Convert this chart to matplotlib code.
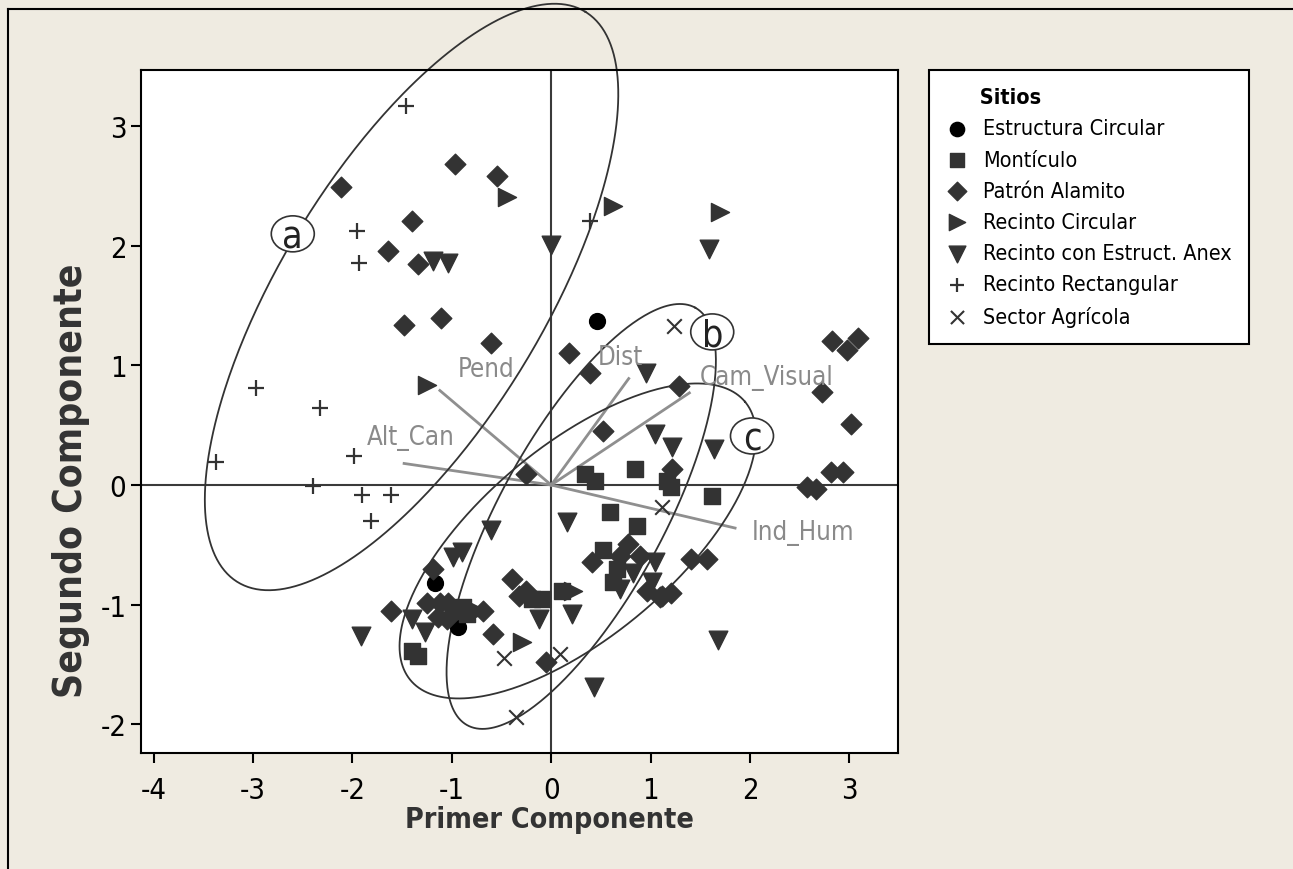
import numpy as np
import matplotlib
matplotlib.use("Agg")
import matplotlib.pyplot as plt
from matplotlib.lines import Line2D
from matplotlib.patches import Ellipse
from matplotlib.transforms import ScaledTranslation

plt.rcParams['font.family'] = ['DejaVu Sans']
plt.rcParams['font.stretch'] = 'condensed'
plt.rcParams['axes.unicode_minus'] = False

# Data: PCA scores
circ_x = [0.46, -1.17, -0.94]
circ_y = [1.37, -0.82, -1.19]

mont_x = [0.34, 0.44, 0.84, 1.16, 1.21, 1.62, 0.59, 0.86, 0.52, -0.89, -0.99, -0.85,
          -1.40, -1.34, -0.19, -0.09, 0.11, 0.66, 0.62]
mont_y = [0.09, 0.03, 0.13, 0.03, -0.02, -0.09, -0.23, -0.34, -0.54, -1.02, -1.05, -1.08,
          -1.39, -1.43, -0.95, -0.95, -0.89, -0.70, -0.81]

alam_x = [-2.11, -0.97, -0.55, -1.40, -1.64, -1.34, -1.48, -1.11, -0.61, -0.25, 0.18, 0.39,
          1.29, 0.52, 2.83, 3.09, 2.98, 2.72, 3.02, 2.81, 2.94, 2.57, 2.66, 1.22, 1.41,
          1.57, 1.11, 1.21, 0.41, -1.19, -1.61, -1.25, -1.12, -1.04, -1.14, -1.05, -0.69,
          -0.59, -0.05, -0.39, -0.32, -0.25, 0.77, 0.96, 1.09, 0.69, 0.89]
alam_y = [2.49, 2.68, 2.58, 2.21, 1.96, 1.85, 1.34, 1.40, 1.19, 0.09, 1.10, 0.94,
          0.83, 0.45, 1.20, 1.23, 1.13, 0.78, 0.51, 0.11, 0.11, -0.02, -0.03, 0.13, -0.62,
          -0.62, -0.93, -0.90, -0.64, -0.70, -1.05, -0.99, -0.99, -0.99, -1.10, -1.12, -1.05,
          -1.25, -1.48, -0.79, -0.93, -0.89, -0.49, -0.89, -0.94, -0.59, -0.59]

rcirc_x = [-0.44, -1.25, 0.62, 1.70, 0.22, -0.29, -0.74]
rcirc_y = [2.41, 0.84, 2.33, 2.28, -0.89, -1.31, -1.05]

anex_x = [0.00, -1.19, -1.04, 1.59, 0.95, 1.04, 1.22, 1.64, 0.16, -0.61, -0.99, -0.90,
          -1.40, -1.27, -1.91, -0.12, 0.21, 0.43, 1.68, 1.04, 0.82, 1.01, 0.69]
anex_y = [2.01, 1.87, 1.86, 1.97, 0.94, 0.43, 0.32, 0.30, -0.31, -0.38, -0.60, -0.56,
          -1.12, -1.23, -1.26, -1.12, -1.08, -1.69, -1.30, -0.64, -0.74, -0.81, -0.87]

rect_x = [-1.46, -1.95, -1.93, -2.97, -2.33, -3.37, -1.98, -2.40, -1.90, -1.61, -1.81, 0.39]
rect_y = [3.17, 2.12, 1.86, 0.81, 0.64, 0.19, 0.24, -0.01, -0.08, -0.08, -0.30, 2.21]

agri_x = [1.24, 1.11, -0.47, 0.09, -0.35]
agri_y = [1.33, -0.18, -1.45, -1.41, -1.94]

# loading vectors
var_names = ["Pend", "Alt_Can", "Dist", "Cam_Visual", "Ind_Hum"]
var_x = [-1.12, -1.48, 0.78, 1.39, 1.85]
var_y = [0.79, 0.18, 0.89, 0.77, -0.36]
var_lab_x = [-0.94, -1.86, 0.47, 1.49, 2.02]
var_lab_y = [0.97, 0.40, 1.07, 0.90, -0.39]

# group ellipses: centre and two conjugate semi-axes
ell_names = ["a", "b", "c"]
ell_cx = [-1.405, 0.302, 0.267]
ell_cy = [1.572, -0.263, -0.468]
ell_ux = [1.748, 1.146, 1.683]
ell_uy = [2.385, 1.746, 1.164]
ell_vx = [-1.127, -0.723, -0.618]
ell_vy = [0.569, 0.328, 0.616]
ell_lab_x = [-2.60, 1.62, 2.02]
ell_lab_y = [2.10, 1.28, 0.41]

bg = '#EFEBE1'
mk = '#333333'

fig = plt.figure(figsize=(12.93, 8.70), dpi=100, facecolor=bg)
ax = fig.add_axes([141 / 1293, 1 - 754 / 870, (898 - 141) / 1293, (754 - 71) / 870])

# outer frame (top and left edges visible)
fig.add_artist(Line2D([8 / 1293, 8 / 1293], [0, 1 - 10 / 870], color='black', lw=1.5))
fig.add_artist(Line2D([8 / 1293, 1.0], [1 - 10 / 870, 1 - 10 / 870], color='black', lw=1.5))

ax.axhline(0, color='#3a3a3a', lw=1.5, zorder=1)
ax.axvline(0, color='#3a3a3a', lw=1.5, zorder=1)

sc = []
sc.append(ax.scatter(circ_x, circ_y, marker='o', s=130, color='black', zorder=3, label='Estructura Circular'))
sc.append(ax.scatter(mont_x, mont_y, marker='s', s=120, color=mk, zorder=3, label='Montículo'))
sc.append(ax.scatter(alam_x, alam_y, marker='D', s=110, color=mk, zorder=3, label='Patrón Alamito'))
sc.append(ax.scatter(rcirc_x, rcirc_y, marker='>', s=170, color=mk, zorder=3, label='Recinto Circular'))
sc.append(ax.scatter(anex_x, anex_y, marker='v', s=180, color=mk, zorder=3, label='Recinto con Estruct. Anex'))
sc.append(ax.scatter(rect_x, rect_y, marker='+', s=130, color=mk, linewidths=1.6, zorder=3, label='Recinto Rectangular'))
sc.append(ax.scatter(agri_x, agri_y, marker='x', s=110, color=mk, linewidths=1.5, zorder=3, label='Sector Agrícola'))

for name, vx, vy, lx, ly in zip(var_names, var_x, var_y, var_lab_x, var_lab_y):
    ax.plot([0, vx], [0, vy], color='#8f8f8f', lw=2, zorder=2)
    ax.text(lx, ly, name, color='#8a8a8a', fontsize=18.5, ha='left', va='center', zorder=4)

t = np.linspace(0, 2 * np.pi, 400)
for i in range(3):
    ex = ell_cx[i] + np.cos(t) * ell_ux[i] + np.sin(t) * ell_vx[i]
    ey = ell_cy[i] + np.cos(t) * ell_uy[i] + np.sin(t) * ell_vy[i]
    ax.plot(ex, ey, color='#333333', lw=1.3, clip_on=False, zorder=2)
    # circled group letter
    off = fig.dpi_scale_trans + ScaledTranslation(ell_lab_x[i], ell_lab_y[i], ax.transData)
    ax.add_patch(Ellipse((0, 0), 0.43, 0.36, transform=off, facecolor='white',
                         edgecolor='#333333', lw=1.2, zorder=5, clip_on=False))
    ax.text(ell_lab_x[i], ell_lab_y[i], ell_names[i], fontsize=27, ha='center', va='center_baseline',
            color='#222222', zorder=6)

ax.set_xlim(-4.127, 3.489)
ax.set_ylim(-2.241, 3.470)
ax.set_xticks(range(-4, 4))
ax.set_yticks(range(-2, 4))
ax.tick_params(direction='out', length=7.5, width=1.5, labelsize=21, top=False, right=False)
ax.tick_params(axis='x', pad=9)
ax.tick_params(axis='y', pad=3)
for s in ax.spines.values():
    s.set_linewidth(1.5)
ax.set_xlabel('Primer Componente', fontsize=20.5, fontweight='bold', color='#333333')
ax.xaxis.set_label_coords((549 - 141) / 757, -(820 - 754) / 683)
ax.xaxis.label.set_va('center')
ax.set_ylabel('Segundo Componente', fontsize=28, fontweight='bold', color='#333333')
ax.yaxis.set_label_coords((90 - 141) / 757, (754 - 481) / 683)

leg = ax.legend(handles=sc, labels=[h.get_label() for h in sc], loc='upper left',
                bbox_to_anchor=(929 / 1293, 1 - 71 / 870),
                bbox_transform=fig.transFigure, frameon=True, fancybox=False, edgecolor='black',
                framealpha=1, facecolor='white',
                title='     Sitios', title_fontproperties={'weight': 'bold', 'size': 15.5},
                alignment='left', fontsize=15.5, labelspacing=0.52, handletextpad=0.7,
                handlelength=1.0, borderpad=0.8, borderaxespad=0, scatterpoints=1, markerscale=0.9)
leg.get_frame().set_linewidth(1.5)

fig.savefig('out.png', dpi=100, facecolor=bg)
